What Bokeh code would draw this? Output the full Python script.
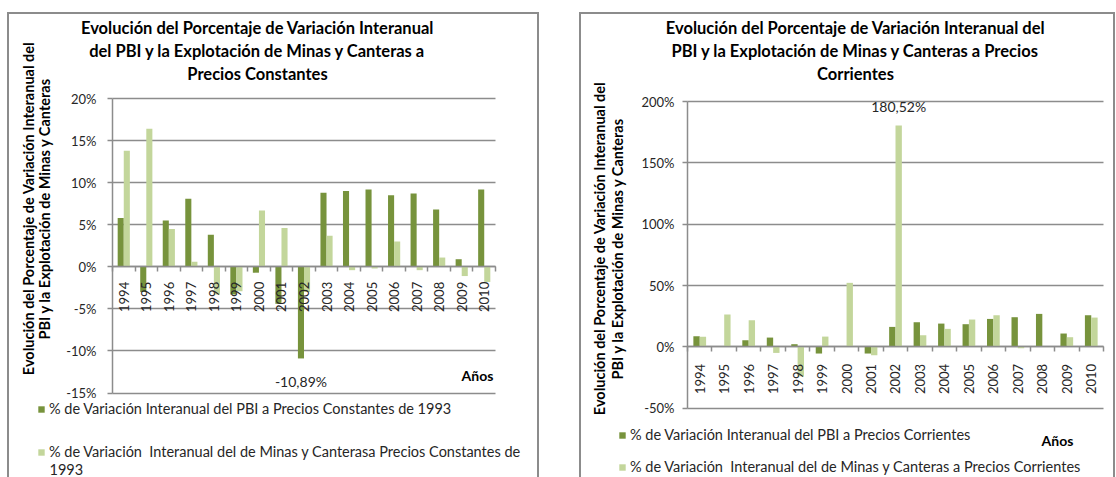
import math
from bokeh.plotting import figure
from bokeh.layouts import row
from bokeh.models import (Range1d, FixedTicker, LinearAxis, PrintfTickFormatter, Grid,
                          Label, Legend, LegendItem, ColumnDataSource)
from bokeh.transform import dodge
from bokeh.embed import file_html
from bokeh.resources import INLINE

# ---------------- data ----------------
years = [str(y) for y in range(1994, 2011)]

pbi_const = [5.8, -3.0, 5.5, 8.1, 3.8, -3.3, -0.7, -4.4, -10.89, 8.8, 9.0, 9.2, 8.5, 8.7, 6.8, 0.9, 9.2]
minas_const = [13.8, 16.4, 4.5, 0.6, -3.3, -2.9, 6.7, 4.6, -3.0, 3.7, -0.4, -0.2, 3.0, -0.4, 1.1, -1.1, -1.8]

pbi_corr = [8.7, 0.0, 5.4, 7.6, 2.2, -5.4, 0.0, -5.4, 16.3, 20.1, 19.0, 18.5, 22.8, 24.2, 26.9, 10.9, 25.8]
minas_corr = [8.2, 26.4, 21.7, -4.9, -24.0, 8.4, 52.2, -6.8, 180.52, 9.5, 14.7, 22.3, 25.8, -1.1, 0.0, 7.9, 23.9]

yticks_const = [-15, -10, -5, 0, 5, 10, 15, 20]
yticks_corr = [-50, 0, 50, 100, 150, 200]

title_const = ["Evolución del Porcentaje de Variación Interanual",
               "del PBI y la Explotación de Minas y Canteras a",
               "Precios Constantes"]
title_corr = ["Evolución del Porcentaje de Variación Interanual del",
              "PBI y la Explotación de Minas y Canteras a Precios",
              "Corrientes"]
ytitle = ["Evolución del Porcentaje de Variación Interanual del",
          "PBI y la Explotación de Minas y Canteras"]
xtitle = "Años"
legend_const = ["% de Variación Interanual del PBI a Precios Constantes de 1993",
                "% de Variación  Interanual del de Minas y Canterasa Precios Constantes de",
                "1993"]
legend_corr = ["% de Variación Interanual del PBI a Precios Corrientes",
               "% de Variación  Interanual del de Minas y Canteras a Precios Corrientes"]

# ---------------- style ----------------
DARK = "#77933C"
LIGHT = "#C3D69B"
GRID = "#8C8C8C"
TXT = "#262626"
FONT = "Lato"
CY0 = 12          # canvas top (page px)
CH = 465          # canvas height
FB = CY0 + CH     # canvas bottom (page px)


def build(cfg, a, b, yticks, title, legend_labels, ann_series, ann_year, ann_offset):
    n = len(years)
    fl, fr, ft, cx0, cw = cfg["fl"], cfg["fr"], cfg["ft"], cfg["cx0"], cfg["cw"]
    ymax, ppu = cfg["ymax"], cfg["ppu"]

    def X(px):
        return -0.5 + (px - fl) * n / (fr - fl)

    def Y(py):
        return ymax - (py - ft) / ppu

    # the frame fills the whole canvas; axes are pinned with fixed_location
    p = figure(width=cw, height=CH, x_range=Range1d(X(cx0), X(cx0 + cw)),
               y_range=Range1d(Y(FB), Y(CY0)),
               min_border_left=0, min_border_right=0, min_border_top=0, min_border_bottom=0,
               toolbar_location=None, output_backend="svg", x_axis_location=None,
               background_fill_color=None, border_fill_color=None, outline_line_color=None)
    p.margin = (CY0, 0, 0, cfg["mleft"])
    p.styles = {"box-shadow": "inset 2px 2px 0 0 #8C8C8C, inset -2px 0 0 0 #8C8C8C",
                "background-color": "white"}

    # y axis + grid
    yt = FixedTicker(ticks=yticks)
    ya = p.yaxis[0]
    ya.fixed_location = -0.5
    ya.ticker = yt
    ya.formatter = PrintfTickFormatter(format="%d%%")
    ya.bounds = (min(yticks), max(yticks))
    ya.axis_line_color = GRID
    ya.axis_line_width = 1.5
    ya.major_tick_line_color = GRID
    ya.major_tick_line_width = 1.5
    ya.major_tick_out = 5
    ya.major_tick_in = 0
    ya.minor_tick_line_color = None
    ya.major_label_text_font = FONT
    ya.major_label_text_font_size = "13px"
    ya.major_label_text_color = TXT
    ya.major_label_standoff = cfg["ystand"]
    p.xgrid.visible = False
    if "cross_bounds" in Grid.properties():
        p.ygrid.ticker = yt
        p.ygrid.cross_bounds = (-0.5, n - 0.5)
        p.ygrid.grid_line_color = GRID
        p.ygrid.grid_line_width = 1.5
    else:
        p.ygrid.visible = False
        p.segment(x0=-0.5, x1=n - 0.5, y0=yticks, y1=yticks, line_color=GRID, line_width=1.5)

    # x axes: one for boundary ticks, one for category labels
    idx = list(range(n))
    bounds = [i - 0.5 for i in range(n + 1)]
    xt = LinearAxis(ticker=FixedTicker(ticks=bounds), bounds=(-0.5, n - 0.5),
                    major_label_overrides={v: "" for v in bounds},
                    fixed_location=0, axis_line_color=GRID, axis_line_width=1.5,
                    major_tick_line_color=GRID, major_tick_line_width=1.5,
                    major_tick_out=5, major_tick_in=0, minor_tick_line_color=None,
                    major_label_text_font_size="0px")
    xl = LinearAxis(ticker=FixedTicker(ticks=idx), bounds=(-0.5, n - 0.5),
                    major_label_overrides={i: y for i, y in zip(idx, years)},
                    fixed_location=0, axis_line_color=None, major_tick_line_color=None,
                    minor_tick_line_color=None, major_label_orientation=math.pi / 2,
                    major_label_standoff=cfg["xstand"], major_label_text_font=FONT,
                    major_label_text_font_size="13px", major_label_text_color=TXT)
    p.add_layout(xt, "below")
    p.add_layout(xl, "below")

    # bars
    bw = cfg["bw"]
    src = ColumnDataSource(dict(x=idx, a=a, b=b))
    r1 = p.vbar(x=dodge("x", -bw / 2, range=p.x_range), top="a", bottom=0, width=bw,
                source=src, fill_color=DARK, line_color=None)
    r2 = p.vbar(x=dodge("x", bw / 2, range=p.x_range), top="b", bottom=0, width=bw,
                source=src, fill_color=LIGHT, line_color=None)

    # title
    for py, t in zip(cfg["title_y"], title):
        p.add_layout(Label(x=X(cfg["title_cx"]), y=Y(py), text=t, text_align="center",
                           text_baseline="middle", text_font=FONT, text_font_size="16.5px",
                           text_font_style="bold", text_color="black"))
    # y title
    for px, t in zip(cfg["ytitle_x"], ytitle):
        p.add_layout(Label(x=X(px), y=Y(cfg["ytitle_cy"]), text=t, angle=math.pi / 2,
                           text_align="center", text_baseline="middle", text_font=FONT,
                           text_font_size="14.5px", text_font_style="bold", text_color="black"))
    # x title
    p.add_layout(Label(x=X(cfg["xlab"][0]), y=Y(cfg["xlab"][1]), text=xtitle, text_align="center",
                       text_baseline="middle", text_font=FONT, text_font_size="14px",
                       text_font_style="bold", text_color="black"))

    # data label
    k = years.index(ann_year)
    series = a if ann_series == 0 else b
    v = series[k]
    xoff = -bw / 2 if ann_series == 0 else bw / 2
    p.add_layout(Label(x=k + xoff, y=v, y_offset=ann_offset,
                       text=f"{v:.2f}".replace(".", ",") + "%", text_align="center",
                       text_baseline="middle", text_font=FONT, text_font_size="14px",
                       text_color=TXT))

    # legend
    rows_y = cfg["leg_rows"]
    lh = 16
    spacing = rows_y[1] - rows_y[0] - lh
    bottom = rows_y[1] + lh / 2
    leg = Legend(items=[LegendItem(label=legend_labels[0], renderers=[r1]),
                        LegendItem(label=legend_labels[1], renderers=[r2])],
                 location=(cfg["leg_x"] - cx0, FB - bottom), orientation="vertical",
                 glyph_width=8, glyph_height=8, label_height=lh, spacing=spacing,
                 label_standoff=4, padding=0, margin=0, border_line_color=None,
                 background_fill_alpha=0, label_text_font=FONT, label_text_font_size="14.5px",
                 label_text_color=TXT)
    p.add_layout(leg)
    if len(legend_labels) > 2:
        p.add_layout(Label(x=X(cfg["leg_x"] + 12), y=Y(cfg["extra_y"]), text=legend_labels[2],
                           text_align="left", text_baseline="middle", text_font=FONT,
                           text_font_size="14.5px", text_color=TXT))
    return p


cfg_const = dict(cx0=7, cw=532, mleft=7, fl=112, fr=495, ft=98, ymax=20, ppu=8.415, bw=0.27,
                 ystand=11, xstand=9, title_cx=257, title_y=[27, 50, 73],
                 ytitle_x=[28, 44], ytitle_cy=208, xlab=(477, 375),
                 leg_x=37, leg_rows=[410, 452], extra_y=469)
cfg_corr = dict(cx0=579, cw=536, mleft=0, fl=687, fr=1103, ft=101, ymax=200, ppu=1.227, bw=0.26,
                ystand=8, xstand=11, title_cx=855, title_y=[27, 50, 73],
                ytitle_x=[599, 617], ytitle_cy=248, xlab=(1057, 440),
                leg_x=618, leg_rows=[436, 467], extra_y=0)

p1 = build(cfg_const, pbi_const, minas_const, yticks_const, title_const, legend_const, 0, "2002", -23)
p2 = build(cfg_corr, pbi_corr, minas_corr, yticks_corr, title_corr, legend_corr, 1, "2002", 19)

layout = row(p1, p2, spacing=cfg_corr["cx0"] - (cfg_const["cx0"] + cfg_const["cw"]))
open("out.html", "w").write(file_html(layout, INLINE))
